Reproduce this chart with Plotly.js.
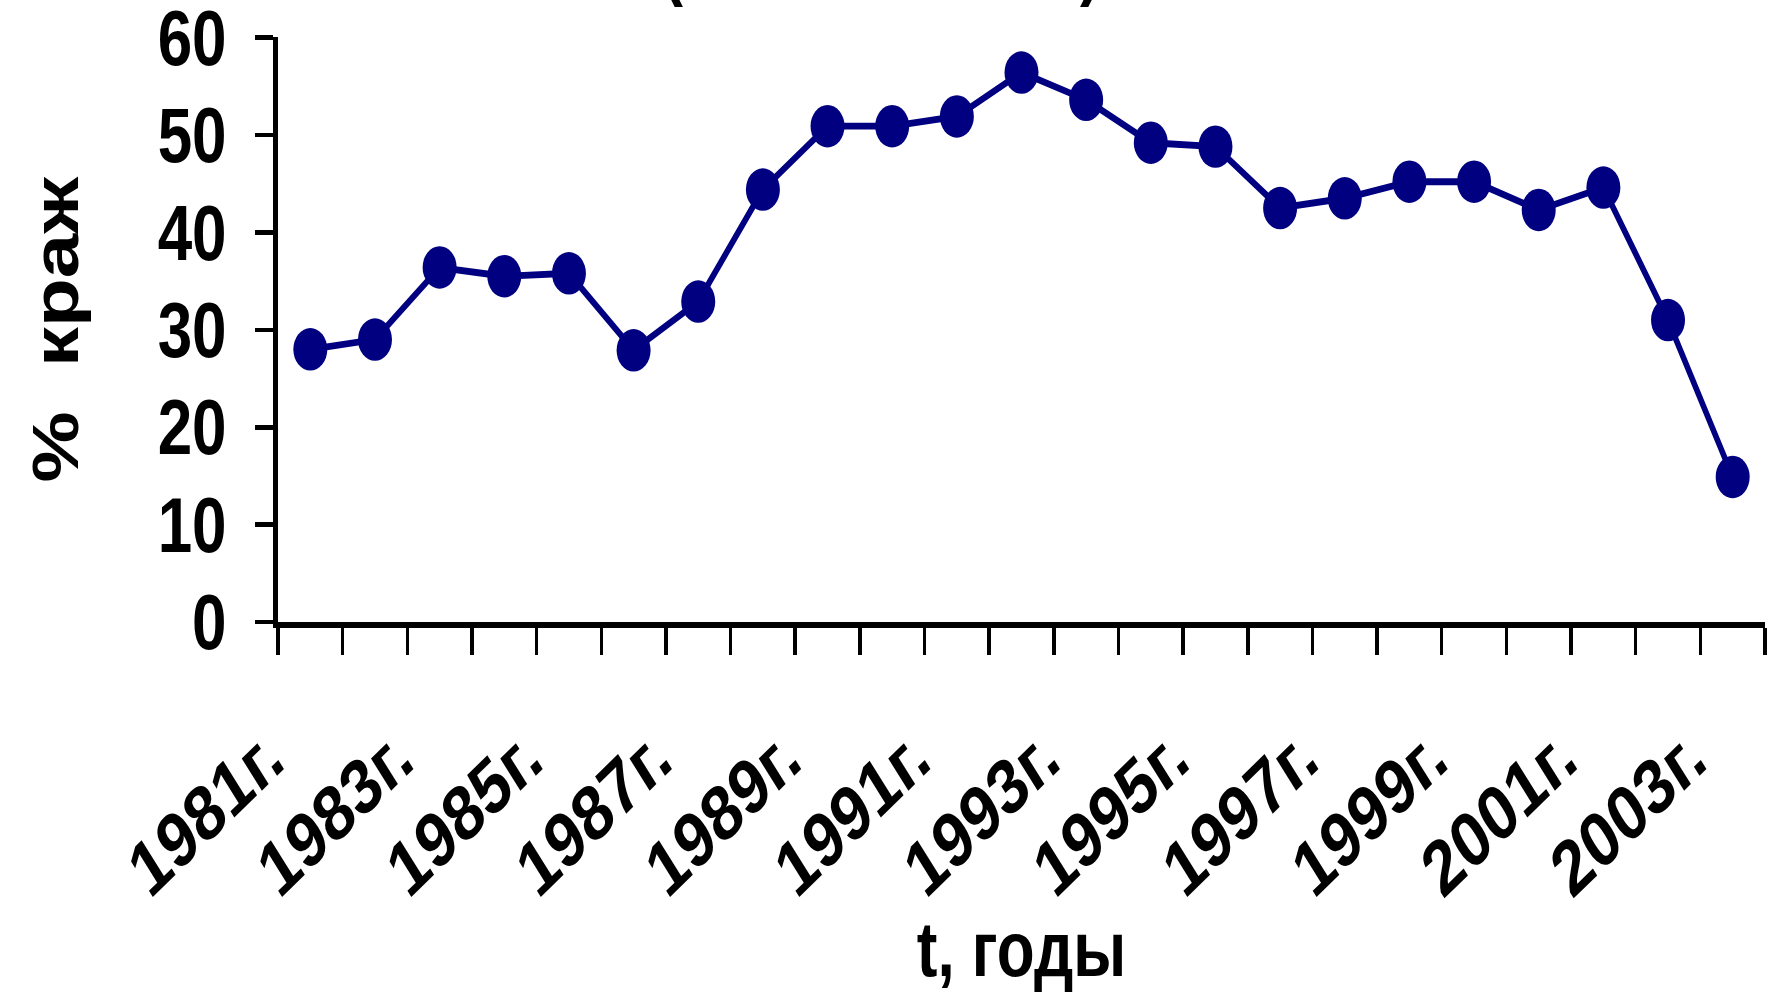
<!DOCTYPE html>
<html>
<head>
<meta charset="utf-8">
<script src="https://cdn.plot.ly/plotly-3.0.1.min.js"></script>
<style>
  html, body { margin: 0; padding: 0; background: #ffffff; overflow: hidden; }
  #wrap { width: 1767px; height: 992px; overflow: hidden; }
  #chart { width: 1767px; height: 794px; transform: scaleY(1.2494); transform-origin: 0 0; }
</style>
</head>
<body>
<div id="wrap"><div id="chart"></div></div>
<script>
// ---- data ----
const years = [1981, 1982, 1983, 1984, 1985, 1986, 1987, 1988, 1989, 1990, 1991, 1992,
               1993, 1994, 1995, 1996, 1997, 1998, 1999, 2000, 2001, 2002, 2003];
const theftShare = [28.0, 29.0, 36.4, 35.5, 35.8, 27.9, 32.9, 44.4, 50.9, 50.9, 51.9, 56.4,
                    53.6, 49.2, 48.8, 42.5, 43.5, 45.2, 45.2, 42.3, 44.6, 31.0, 14.9];
const labelYears = [1981, 1983, 1985, 1987, 1989, 1991, 1993, 1995, 1997, 1999, 2001, 2003];
const labelTexts = ['1981г.', '1983г.', '1985г.', '1987г.', '1989г.', '1991г.', '1993г.',
                    '1995г.', '1997г.', '1999г.', '2001г.', '2003г.'];
const yTickVals = [0, 10, 20, 30, 40, 50, 60];
const xTitle = 't, годы';
const yTitle = '%\u00a0\u00a0краж';

// category boundaries (ticks sit between the years)
const boundaries = years.map(y => y - 0.5).concat([years[years.length - 1] + 0.5]);

const FONT = 'Liberation Sans, Arial, Helvetica, sans-serif';
const NAVY = '#000080';

const trace = {
  type: 'scatter',
  mode: 'lines+markers',
  x: years,
  y: theftShare,
  line: { color: NAVY, width: 5.5 },
  marker: { color: NAVY, size: 34, line: { width: 0 } },
  cliponaxis: false,
  hoverinfo: 'x+y'
};

const layout = {
  width: 1767,
  height: 794,
  margin: { l: 278, r: 2, t: 30.4, b: 296 },
  paper_bgcolor: '#ffffff',
  plot_bgcolor: '#ffffff',
  showlegend: false,
  font: { family: FONT, color: '#000000', size: 60, weight: 700 },
  xaxis: {
    range: [boundaries[0], boundaries[boundaries.length - 1]],
    tickmode: 'array',
    tickvals: labelYears,
    ticktext: labelTexts,
    ticks: '',
    tickangle: -38,
    tickfont: { family: FONT, size: 62, weight: 700, color: '#000' },
    ticklabelstandoff: 42,
    ticklabelshift: -42,
    ticklabeloverflow: 'allow',
    minor: { tickmode: 'array', tickvals: boundaries, ticks: 'outside', ticklen: 21, tickwidth: 3.5, tickcolor: '#000', showgrid: false },
    showline: true,
    linecolor: '#000',
    linewidth: 5,
    showgrid: false,
    zeroline: false,
    fixedrange: true,
    automargin: false,
    title: { text: xTitle, font: { family: FONT, size: 62, weight: 700, color: '#000' }, standoff: 20 }
  },
  yaxis: {
    range: [0, 60],
    tickmode: 'array',
    tickvals: yTickVals,
    ticks: 'outside',
    ticklen: 18,
    tickwidth: 3.6,
    tickcolor: '#000',
    tickfont: { family: FONT, size: 62, weight: 700, color: '#000' },
    ticklabelstandoff: 16,
    ticklabeloverflow: 'allow',
    showline: true,
    linecolor: '#000',
    linewidth: 5,
    showgrid: false,
    zeroline: false,
    fixedrange: true,
    automargin: false,
    title: { text: yTitle, font: { family: FONT, size: 64, weight: 700, color: '#000' }, standoff: 60 }
  },
  annotations: [
    { text: '(', xref: 'paper', yref: 'paper', x: (673 - 278) / 1487, y: 1.045, xanchor: 'center', yanchor: 'bottom',
      showarrow: false, font: { family: FONT, size: 60, color: '#000' } },
    { text: ')', xref: 'paper', yref: 'paper', x: (1090 - 278) / 1487, y: 1.045, xanchor: 'center', yanchor: 'bottom',
      showarrow: false, font: { family: FONT, size: 60, color: '#000' } }
  ]
};

Plotly.newPlot('chart', [trace], layout, { displayModeBar: false, staticPlot: true });
</script>
</body>
</html>
